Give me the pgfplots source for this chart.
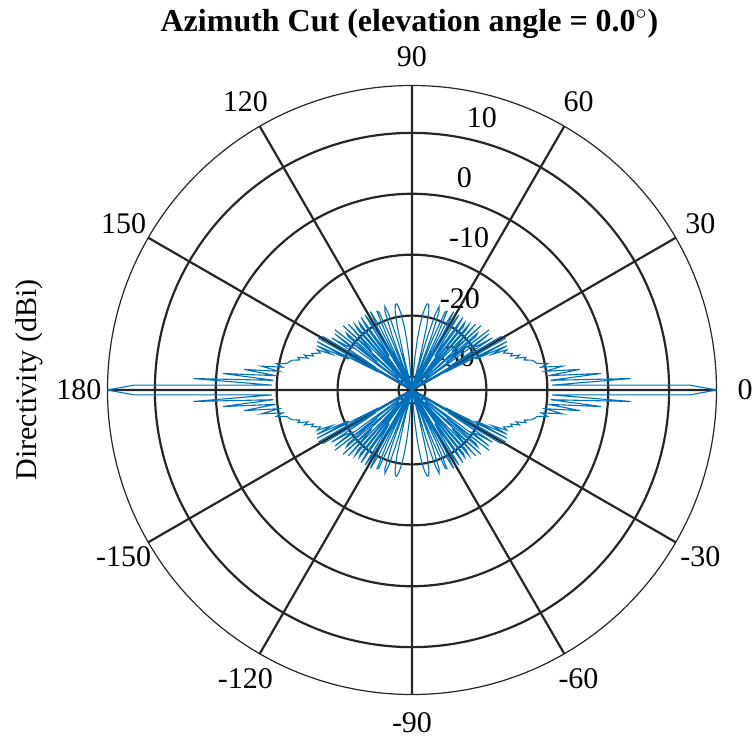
\documentclass[border=0pt]{standalone}
\usepackage{fontspec}
\setmainfont{Liberation Serif}
\usepackage{pgfplots}
\usepackage{pgfplotstable}
\pgfplotsset{compat=1.18}
\usepgfplotslibrary{polar}

\definecolor{gridc}{HTML}{262626}
\definecolor{patc}{HTML}{0072BD}

% Directivity (dBi) of the azimuth cut, one quadrant (0..90 deg, 1 deg steps);
% the pattern is symmetric about both the 0-180 and the 90-270 axes.
\pgfplotstableread{
az D
0 17.78
1 13.43
2 -9.21
3 3.72
4 -9.40
5 -1.06
6 -9.71
7 -4.46
8 -10.14
9 -7.21
10 -10.66
11 -9.55
12 -11.28
13 -11.54
14 -11.98
15 -13.15
16 -12.76
17 -14.34
18 -13.65
19 -15.08
20 -14.70
21 -15.37
22 -16.01
23 -15.30
24 -17.83
25 -15.02
26 -20.64
27 -14.72
28 -25.99
29 -14.64
30 -80
31 -15.08
32 -25.16
33 -16.50
34 -19.29
35 -20.02
36 -16.61
37 -31.34
38 -16.13
39 -24.87
40 -18.52
41 -17.95
42 -29.31
43 -16.72
44 -23.07
45 -20.97
46 -17.19
47 -31.62
48 -19.01
49 -18.01
50 -41.80
51 -18.81
52 -18.17
53 -35.20
54 -19.87
55 -17.67
56 -25.56
57 -23.84
58 -17.68
59 -19.72
60 -41.96
61 -20.94
62 -17.64
63 -20.16
64 -36.60
65 -22.72
66 -18.08
67 -18.30
68 -22.96
69 -50.20
70 -22.72
71 -18.55
72 -17.80
73 -19.40
74 -24.00
75 -40.90
76 -27.26
77 -21.33
78 -18.86
79 -17.89
80 -17.86
81 -18.54
82 -19.79
83 -21.58
84 -23.92
85 -26.88
86 -30.64
87 -35.60
88 -42.60
89 -54.60
90 -80
}\quarter

% radial axis runs from -32.22 dBi (centre) to 17.78 dBi (outer circle)
\def\rmin{32.22}

\tikzset{lab/.style={font=\fontsize{15}{18}\selectfont, text=black}}

\begin{document}
\begin{tikzpicture}
\useasboundingbox (-206pt,-177pt) rectangle (171pt,195pt);
\begin{polaraxis}[
  at={(0,0)}, anchor=center,
  width=304.5pt, height=304.5pt, scale only axis,
  ymin=0, ymax=50,
  xtick={0,30,...,330},
  ytick={2.22,12.22,22.22,32.22,42.22},
  xticklabels={}, yticklabels={},
  major tick length=0pt,
  grid=major,
  major grid style={line width=1.1pt, draw=gridc},
  axis line style={line width=0.6pt, draw=gridc},
  clip=false,
]
% radial tick labels
\node[lab] at (axis cs:75.57,46.12) {10};
\node[lab] at (axis cs:76.1,35.86) {0};
\node[lab] at (axis cs:69.4,26.65) {-10};
\node[lab] at (axis cs:62.2,16.90) {-20};
\node[lab] at (axis cs:37.5,8.90) {-30};
% angle labels
\node[lab] at (axis cs:0,54.68) {0};
\node[lab] at (axis cs:30,54.68) {30};
\node[lab] at (axis cs:60,54.68) {60};
\node[lab] at (axis cs:90,54.68) {90};
\node[lab] at (axis cs:120,54.68) {120};
\node[lab] at (axis cs:150,54.68) {150};
\node[lab] at (axis cs:180,54.68) {180};
\node[lab] at (axis cs:210,54.68) {-150};
\node[lab] at (axis cs:240,54.68) {-120};
\node[lab] at (axis cs:270,54.68) {-90};
\node[lab] at (axis cs:300,54.68) {-60};
\node[lab] at (axis cs:330,54.68) {-30};
% title and radial label
\node[anchor=base, font=\fontsize{16}{19}\selectfont\bfseries] at (axis cs:90.4,58.8) {Azimuth Cut (elevation angle = 0.0$^{\circ}$)};
\node[lab, rotate=90] at (axis cs:178.5,62.91) {Directivity (dBi)};

\addplot[patc, line width=0.55pt, no marks] table[x=az, y expr={max(\thisrow{D}+\rmin,0)}] {\quarter};
\addplot[patc, line width=0.55pt, no marks] table[x expr={180-\thisrow{az}}, y expr={max(\thisrow{D}+\rmin,0)}] {\quarter};
\addplot[patc, line width=0.55pt, no marks] table[x expr={-\thisrow{az}}, y expr={max(\thisrow{D}+\rmin,0)}] {\quarter};
\addplot[patc, line width=0.55pt, no marks] table[x expr={\thisrow{az}-180}, y expr={max(\thisrow{D}+\rmin,0)}] {\quarter};
\end{polaraxis}
\end{tikzpicture}
\end{document}
